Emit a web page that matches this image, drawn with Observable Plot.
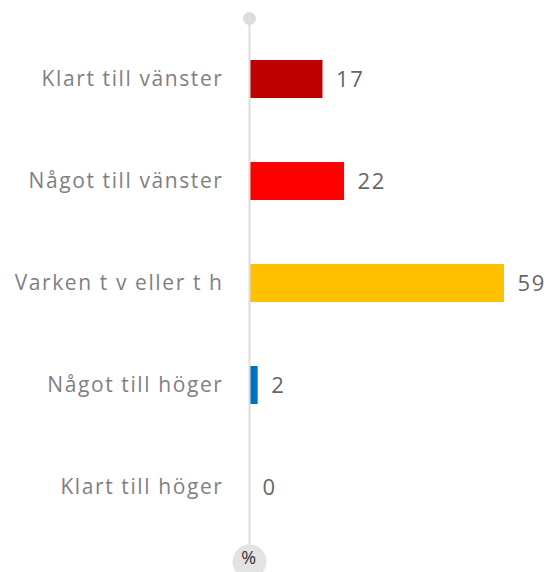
<!DOCTYPE html>
<html><head><meta charset="utf-8">
<script src="https://cdn.jsdelivr.net/npm/d3@7"></script>
<script src="https://cdn.jsdelivr.net/npm/@observablehq/plot@0.6"></script>
<style>body{margin:0;background:#fff}svg{display:block}</style>
</head><body><div id="chart"></div>
<script>
const categories = ["Klart till vänster","Något till vänster","Varken t v eller t h","Något till höger","Klart till höger"];
const values = [17, 22, 59, 2, 0];
const colors = ["#c00000","#ff0000","#ffc000","#0070c0","#0070c0"];
const unitLabel = "%";
const data = categories.map((c,i)=>({cat:c, v:values[i], col:colors[i]}));

const chart = Plot.plot({
  width: 548, height: 572,
  marginLeft: 249, marginRight: 44, marginTop: 26, marginBottom: 33,
  style: {fontFamily: "'Open Sans', sans-serif", color: "#666", background: "#fff", letterSpacing: "1.6px"},
  x: {domain: [0, 59], axis: null},
  y: {domain: categories, paddingInner: 0.63, paddingOuter: 0.315, axis: null},
  marks: [
    Plot.axisY({tickSize: 0, tickPadding: 26, fontSize: 21, fill: "#7f7f7f", label: null}),
    Plot.barX(data, {x: "v", y: "cat", fill: "col", insetLeft: 1}),
    Plot.ruleX([0], {stroke: "#dcdcdc", strokeWidth: 2, insetTop: -8, insetBottom: -18}),
    Plot.text(data, {x: "v", y: "cat", text: d => String(d.v), textAnchor: "start", dx: 13, fontSize: 22, fill: "#666"}),
    Plot.dot([0], {x: d => d, frameAnchor: "top", dy: -8, r: 6.5, fill: "#dcdcdc"}),
    Plot.dot([0], {x: d => d, frameAnchor: "bottom", dy: 22, r: 17, fill: "#e3e3e3"}),
    Plot.text([unitLabel], {x: () => 0, frameAnchor: "bottom", dy: 24, text: d => d, fontSize: 18, fill: "#333"})
  ]
});
document.getElementById("chart").append(chart);
</script></body></html>
